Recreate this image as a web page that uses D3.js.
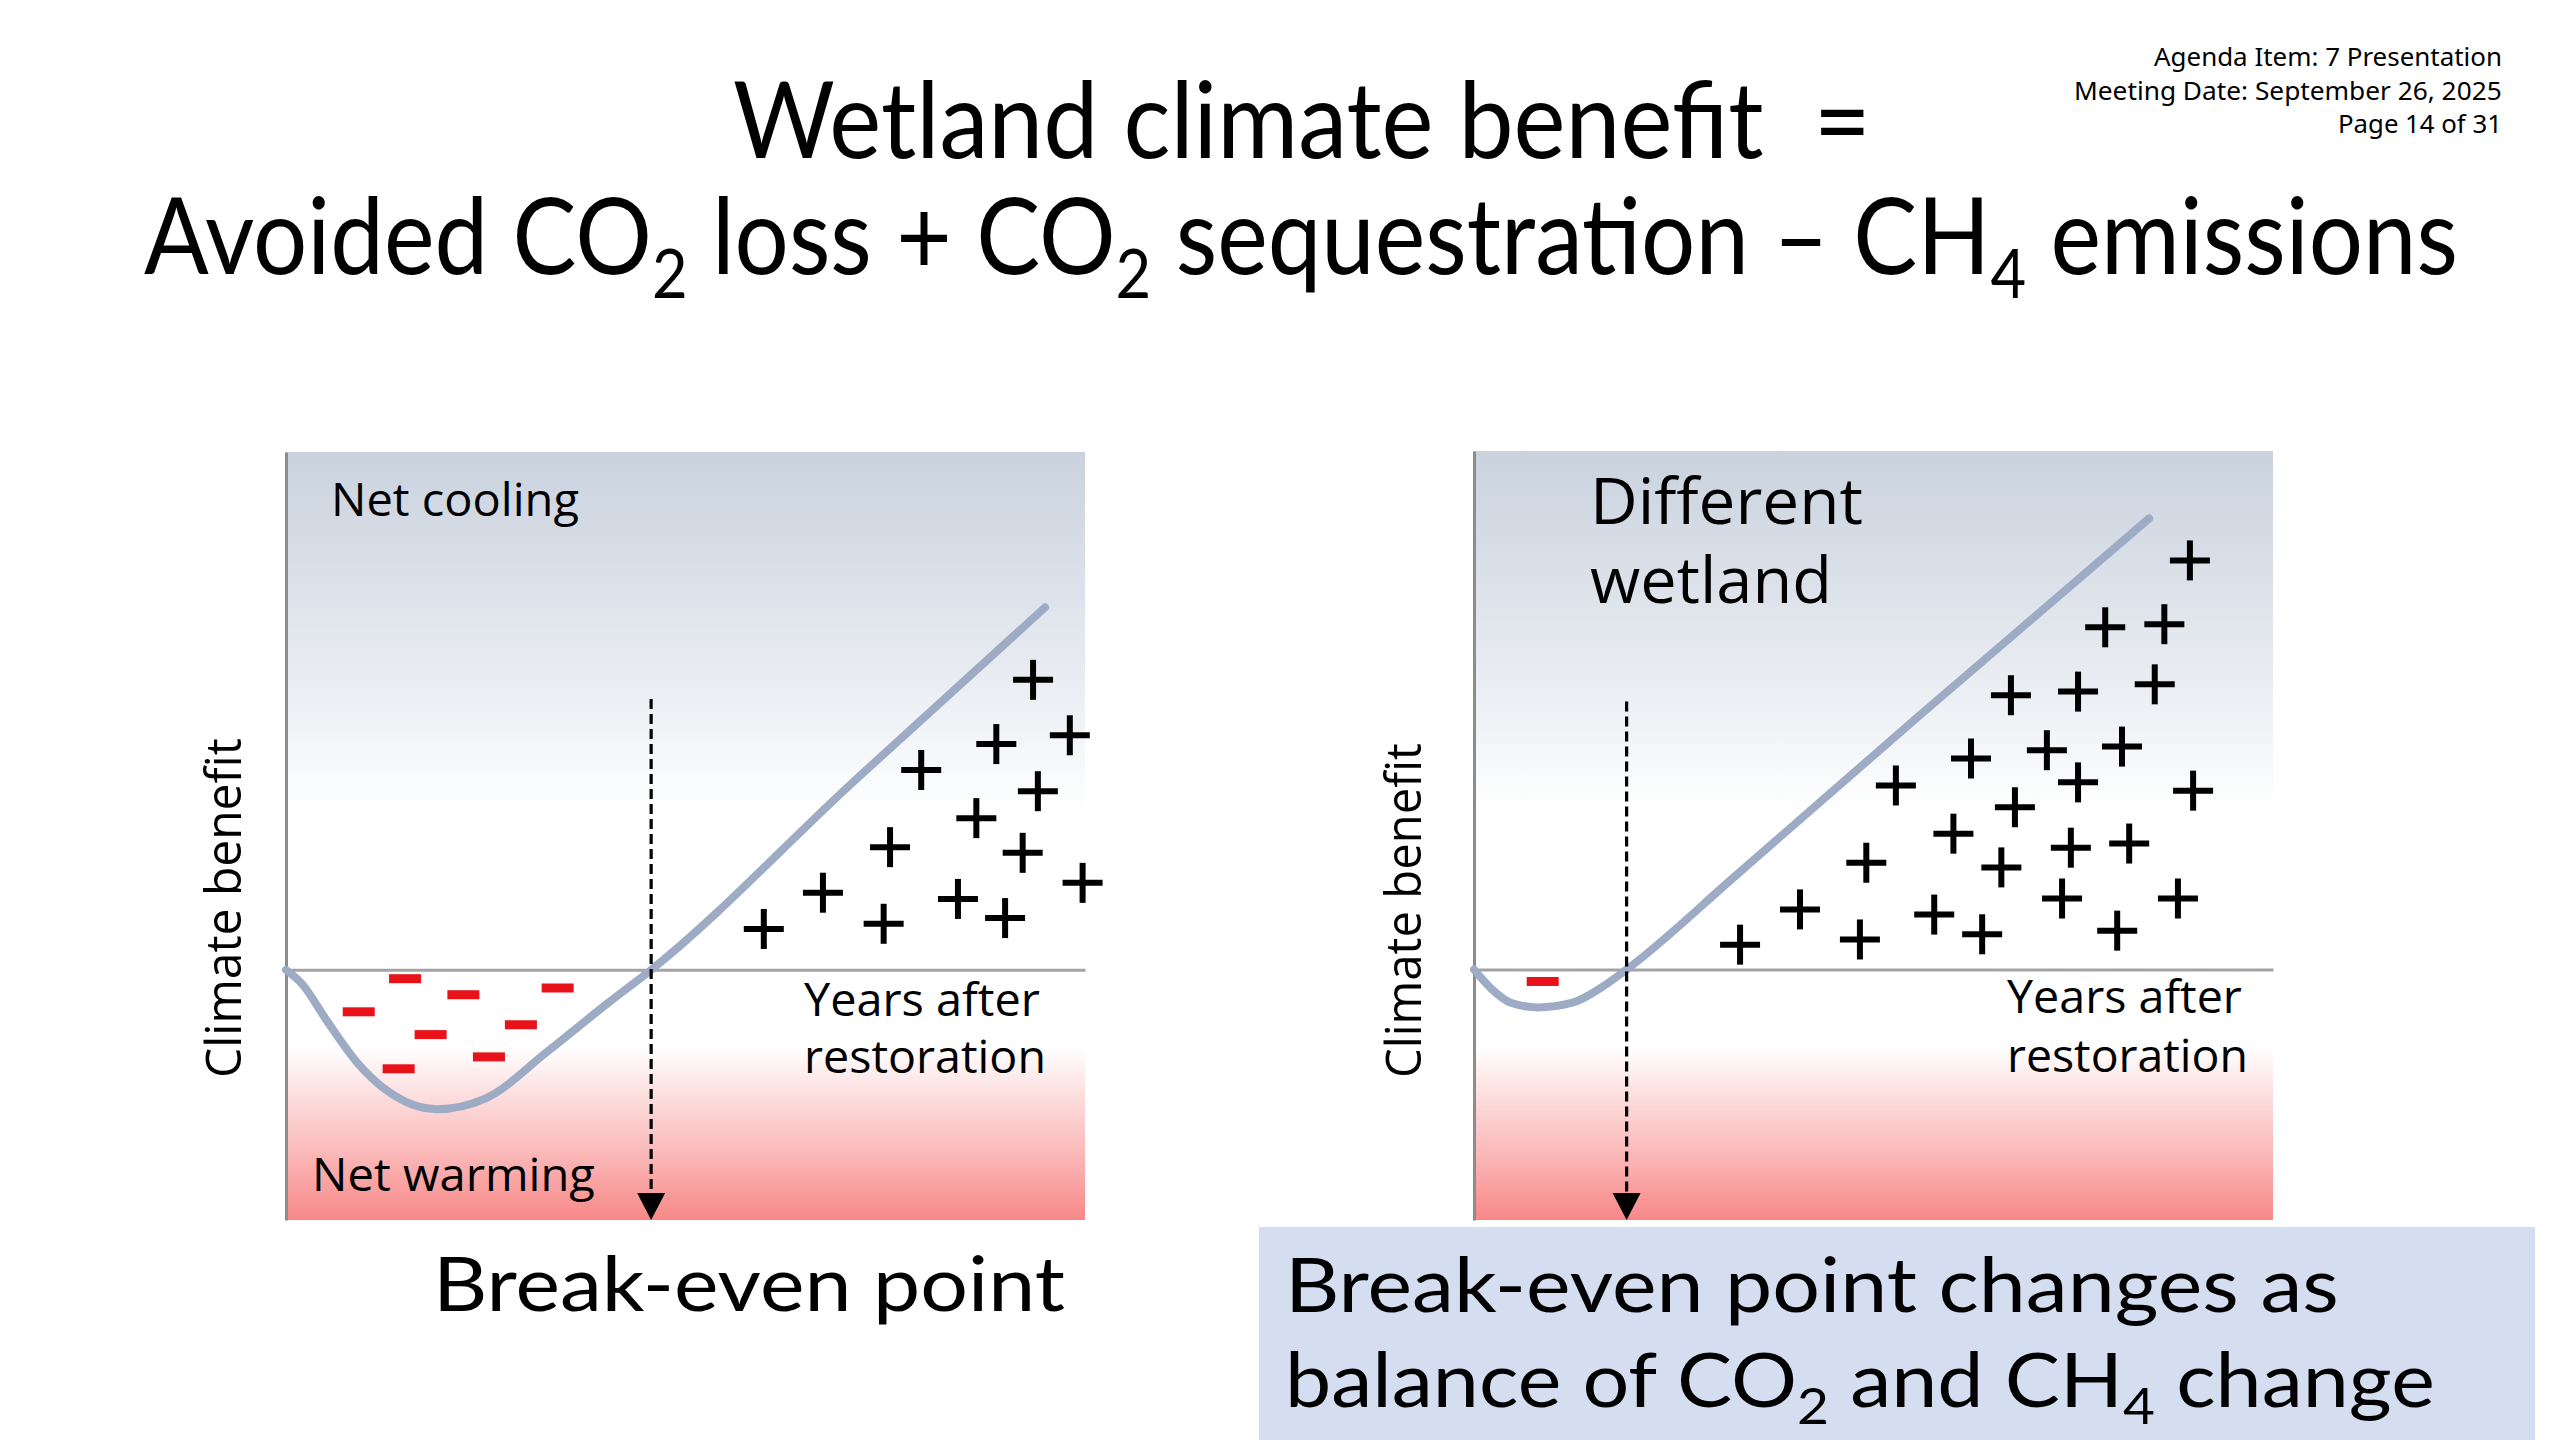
<!DOCTYPE html>
<html><head><meta charset="utf-8">
<script src="https://cdn.jsdelivr.net/npm/d3@7"></script>
<style>html,body{margin:0;padding:0;background:#fff}svg{display:block}</style>
</head><body>
<svg id="c" width="2560" height="1440"></svg>
<script>
// ---------- DATA ----------
const headerLines = ["Agenda Item: 7 Presentation", "Meeting Date: September 26, 2025", "Page 14 of 31"];
const titleLine1 = ["Wetland climate benefit\u00A0 ="];
const titleLine2 = ["Avoided CO", ["2"], " loss + CO", ["2"], " sequestration \u2013 CH", ["4"], " emissions"];
const captionA = ["Break-even point"];
const captionB1 = ["Break-even point changes as"];
const captionB2 = ["balance of CO", ["2"], " and CH", ["4"], " change"];
const yAxisLabel = "Climate benefit";
const xAxisLabel = ["Years after", "restoration"];
const topLabelA = ["Net cooling"];
const bottomLabelA = ["Net warming"];
const topLabelB = ["Different", "wetland"];

const yearsDomain = [0, 100];
const benefitDomain = [-48.3, 100];

// Panel A (left)
const curveAYears   = [0, 2.0, 5.1, 8.9, 12.8, 18.9, 25.0, 32.7, 40.3, 45.7, 71.0, 95.0];
const curveABenefit = [0, -2.7, -9.8, -17.9, -23.5, -26.9, -24.8, -15.8, -6.4, 0, 36.3, 70.0];
const breakEvenA = 45.7;
const dashTopA = 52.3;
const minusAYears   = [14.9, 22.2, 34.0, 9.1, 18.1, 29.4, 25.4, 14.1];
const minusABenefit = [-1.7, -4.8, -3.5, -8.1, -12.5, -10.6, -16.8, -19.1];
const plusAYears    = [93.5, 88.9, 98.1, 79.5, 94.1, 86.4, 75.6, 92.2, 67.2, 99.7, 84.1, 59.8, 74.8, 90.0];
const plusABenefit  = [56.0, 43.6, 45.3, 38.6, 34.5, 29.3, 23.7, 22.6, 14.9, 16.8, 13.7, 7.9, 8.9, 10.0];

// Panel B (right, different wetland)
const curveBYears   = [0, 2.3, 4.6, 8.0, 12.3, 16.1, 19.1, 32.9, 55.9, 84.5];
const curveBBenefit = [0, -3.9, -6.4, -7.3, -6.4, -3.3, 0, 18.3, 49.2, 87.0];
const breakEvenB = 19.1;
const dashTopB = 51.7;
const minusBYears   = [8.6];
const minusBBenefit = [-2.3];
const plusBYears    = [89.6, 79.0, 86.4, 67.2, 75.6, 85.2, 62.2, 71.7, 81.1, 52.8, 75.6, 90.0, 67.7, 60.0, 74.7, 82.0, 49.1, 66.0, 40.8, 57.6, 73.6, 88.1, 33.3, 48.3, 63.6, 80.5];
const plusBBenefit  = [78.9, 66.0, 66.6, 52.9, 53.6, 55.0, 40.7, 42.3, 43.0, 35.5, 36.1, 34.5, 31.3, 26.2, 23.5, 24.3, 20.6, 19.7, 11.6, 10.6, 13.7, 13.7, 4.8, 5.8, 6.8, 7.5];

// ---------- DRAW ----------
const svg = d3.select("#c");
const defs = svg.append("defs");
const grad = defs.append("linearGradient").attr("id", "bg").attr("x1", 0).attr("y1", 0).attr("x2", 0).attr("y2", 1);
[[0, "#c9d2de"], [0.18, "#dde2ea"], [0.34, "#eef1f5"], [0.47, "#ffffff"], [0.775, "#ffffff"], [0.83, "#fde2e2"], [0.91, "#fbbaba"], [1, "#f88888"]]
  .forEach(([o, c]) => grad.append("stop").attr("offset", o).attr("stop-color", c));

function makeText(parent, parts, font, size, sub) {
  const g = parent.append("g");
  const t = g.append("text").attr("font-family", font).attr("font-size", size).attr("fill", "#000");
  let back = 0;
  parts.forEach(p => {
    if (Array.isArray(p)) {
      t.append("tspan").attr("font-size", sub.size).attr("dy", sub.shift).text(p[0]);
      back = -sub.shift;
    } else {
      const ts = t.append("tspan").text(p);
      if (back) { ts.attr("dy", back); back = 0; }
    }
  });
  const len = t.node().getComputedTextLength();
  return {g, len};
}
function fitH(parent, parts, font, size, left, width, baseline, sub) {
  const {g, len} = makeText(parent, parts, font, size, sub);
  g.attr("transform", `translate(${left},${baseline}) scale(${width / len},1)`);
}
function fitV(parent, parts, font, size, xBase, yBottom, length) {
  const {g, len} = makeText(parent, parts, font, size);
  g.attr("transform", `translate(${xBase},${yBottom}) rotate(-90) scale(${length / len},1)`);
}

function panel(cfg) {
  const x = d3.scaleLinear().domain(yearsDomain).range([cfg.left, cfg.right]);
  const y = d3.scaleLinear().domain(benefitDomain).range([cfg.bottom, cfg.top]);
  const g = svg.append("g");
  g.append("rect").attr("x", x(0)).attr("y", y(100)).attr("width", x(100) - x(0))
    .attr("height", y(benefitDomain[0]) - y(100)).attr("fill", "url(#bg)");
  const xa = g.append("g").attr("transform", `translate(0,${y(0)})`)
    .call(d3.axisBottom(x).ticks(0).tickSizeOuter(0));
  xa.select(".domain").attr("stroke", "#a3a3a3").attr("stroke-width", 3);
  const ya = g.append("g").attr("transform", `translate(${x(0)},0)`)
    .call(d3.axisLeft(y).ticks(0).tickSizeOuter(0));
  ya.select(".domain").attr("stroke", "#8c8c8c").attr("stroke-width", 3);

  const pts = cfg.cx.map((v, i) => [v, cfg.cy[i]]);
  g.append("path").datum(pts)
    .attr("d", d3.line().x(d => x(d[0])).y(d => y(d[1])).curve(d3.curveMonotoneX))
    .attr("fill", "none").attr("stroke", "#9dabc4").attr("stroke-width", 8)
    .attr("stroke-linecap", "round").attr("stroke-linejoin", "round");

  const bx = x(cfg.be), by = y(benefitDomain[0]);
  const ah = 27, aw = 14;
  g.append("line").attr("x1", bx).attr("x2", bx).attr("y1", y(cfg.dashTop)).attr("y2", by - ah + 2)
    .attr("stroke", "#000").attr("stroke-width", 3.2).attr("stroke-dasharray", "10,5");
  g.append("path").attr("d", `M${bx - aw},${by - ah}L${bx + aw},${by - ah}L${bx},${by}Z`).attr("fill", "#000");

  g.selectAll(".minus").data(cfg.mx.map((v, i) => [v, cfg.my[i]])).join("rect")
    .attr("x", d => x(d[0]) - 16).attr("y", d => y(d[1]) - 4.5).attr("width", 32).attr("height", 9)
    .attr("fill", "#e8131a");

  const plus = g.selectAll(".plus").data(cfg.px.map((v, i) => [v, cfg.py[i]])).join("g")
    .attr("transform", d => `translate(${x(d[0])},${y(d[1])})`);
  plus.append("line").attr("x1", -20).attr("x2", 20).attr("stroke", "#000").attr("stroke-width", 6);
  plus.append("line").attr("y1", -20).attr("y2", 20).attr("stroke", "#000").attr("stroke-width", 6);
  return g;
}

function draw() {
  // header
  fitH(svg, [headerLines[0]], "Noto Sans", 25, 2502 - 348, 348, 66);
  fitH(svg, [headerLines[1]], "Noto Sans", 25, 2502 - 428, 428, 100);
  fitH(svg, [headerLines[2]], "Noto Sans", 25, 2502 - 164, 164, 133);

  // title
  const tsub = {size: 68, shift: 24};
  fitH(svg, titleLine1, "Lato", 106, 733, 1138, 158, tsub);
  fitH(svg, titleLine2, "Lato", 106, 144, 2314, 274, tsub);

  // panels
  const A = panel({left: 286, right: 1085, top: 452, bottom: 1220,
    cx: curveAYears, cy: curveABenefit, be: breakEvenA, dashTop: dashTopA,
    mx: minusAYears, my: minusABenefit, px: plusAYears, py: plusABenefit});
  const B = panel({left: 1474, right: 2273, top: 451, bottom: 1220,
    cx: curveBYears, cy: curveBBenefit, be: breakEvenB, dashTop: dashTopB,
    mx: minusBYears, my: minusBBenefit, px: plusBYears, py: plusBBenefit});

  // panel labels
  fitH(A, topLabelA, "Open Sans", 46, 331, 248, 516);
  fitH(A, bottomLabelA, "Open Sans", 46, 312, 283, 1191);
  fitH(A, [xAxisLabel[0]], "Open Sans", 46, 804, 236, 1016);
  fitH(A, [xAxisLabel[1]], "Open Sans", 46, 804, 242, 1073);
  fitV(A, [yAxisLabel], "Open Sans", 49, 241, 1078, 340);

  fitH(B, [topLabelB[0]], "Open Sans", 64, 1590, 273, 524);
  fitH(B, [topLabelB[1]], "Open Sans", 64, 1590, 242, 603);
  fitH(B, [xAxisLabel[0]], "Open Sans", 46, 2007, 235, 1013);
  fitH(B, [xAxisLabel[1]], "Open Sans", 46, 2007, 241, 1072);
  fitV(B, [yAxisLabel], "Open Sans", 49, 1421, 1078, 335);

  // captions
  fitH(svg, captionA, "Lato", 76, 433, 632, 1311);
  svg.append("rect").attr("x", 1259).attr("y", 1227).attr("width", 1276).attr("height", 213).attr("fill", "#d5def0");
  const csub = {size: 50, shift: 17};
  fitH(svg, captionB1, "Lato", 75, 1285, 1054, 1312, csub);
  fitH(svg, captionB2, "Lato", 75, 1285, 1150, 1407, csub);
}
if (document.fonts && document.fonts.ready) document.fonts.ready.then(draw); else draw();
</script>
</body></html>
